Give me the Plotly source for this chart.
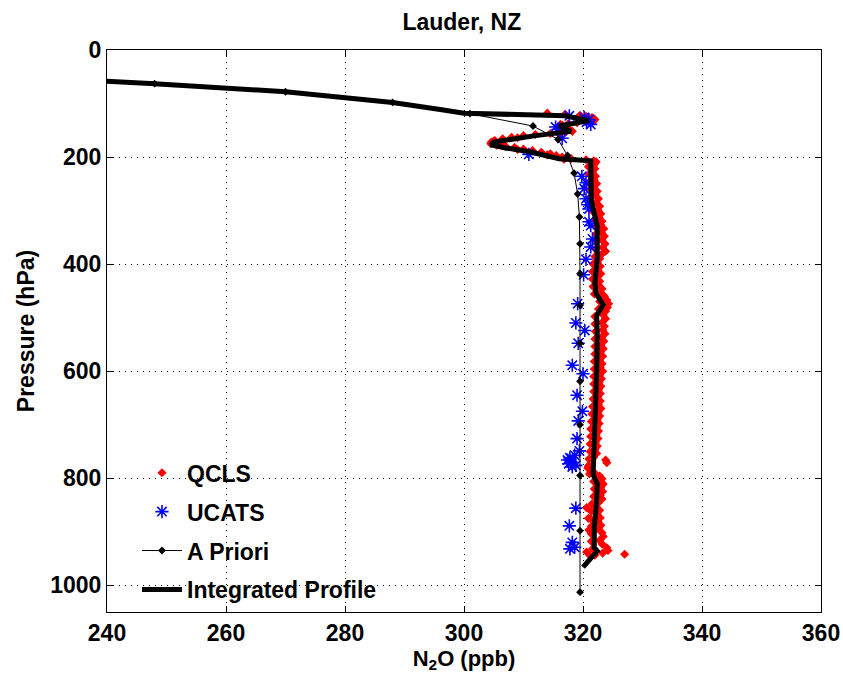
import plotly.graph_objects as go

# ---- Data ----
qcls_p = [118, 120, 122, 124, 126, 128, 130, 132, 134, 136, 138, 140, 143, 146, 149, 152, 154, 156, 158, 160,
          163, 166, 169, 172, 175, 178, 180, 182, 185, 188, 191, 194, 197, 200, 203, 205, 207, 209, 212,
          215, 222, 229, 236, 243, 250, 257, 264, 271, 278, 285, 292, 299, 306, 313, 320, 327, 334, 341, 348,
          355, 362, 369, 376, 383, 390, 397, 404, 411, 418, 425, 432, 439, 446, 453, 460, 467, 474, 481, 488,
          495, 502, 509, 516, 523, 530, 537, 544, 551, 558, 565, 572, 579, 586, 593, 600, 607, 614, 621, 628,
          635, 642, 649, 656, 663, 670, 677, 684, 691, 698, 705, 712, 719, 726, 733, 740, 747, 754, 761, 766,
          771, 776, 781, 786, 791, 796, 801, 806, 811, 818, 825, 832, 839, 846, 853, 855, 860, 867, 874, 875,
          881, 888, 895, 897, 902, 909, 916, 923, 930, 935, 938, 940, 942, 945,
          218, 232, 246, 260, 274, 288, 302, 316, 330, 344, 358, 372, 386, 400, 414, 428, 442, 456, 470, 484,
          498, 512, 526, 540, 554, 568, 582, 596, 610, 624, 638, 652, 666, 680, 694, 708, 722, 736, 750, 764,
          778, 792, 806, 820, 834, 848, 862, 876, 890, 904, 918, 932, 944,
          127, 139, 147, 157, 164, 170, 176, 186, 196, 204]
qcls_v = [314.0, 317.0, 319.5, 320.5, 321.5, 321.8, 322.0, 321.8, 320.5, 319.0, 317.5, 316.5, 316.0, 316.8, 317.8, 318.2, 317.0, 314.5, 312.0, 310.0,
          308.0, 306.5, 305.2, 304.6, 304.5, 305.5, 307.0, 308.5, 310.0, 311.5, 313.0, 314.5, 315.5, 316.5, 318.0, 320.5, 321.8, 322.2, 322.0,
          321.8, 322.0, 321.6, 322.1, 321.9, 322.3, 321.8, 322.4, 322.0, 322.6, 322.2, 322.8, 322.5, 323.0, 322.7, 323.2, 323.0, 323.5, 323.1, 323.6,
          323.2, 323.7, 323.3, 323.8, 323.0, 322.8, 322.4, 322.9, 322.5, 323.0, 322.4, 322.8, 322.6, 323.2, 323.0, 323.6, 324.0, 324.3, 324.1, 323.8,
          323.4, 323.8, 323.2, 323.6, 323.3, 323.7, 323.1, 323.5, 323.0, 323.4, 322.9, 323.3, 322.8, 323.2, 322.9, 323.3, 322.8, 323.1, 322.7, 323.0,
          322.6, 322.9, 322.5, 322.9, 322.6, 323.0, 322.5, 322.8, 322.4, 322.7, 322.3, 322.6, 322.2, 322.5, 322.1, 322.4, 322.0, 322.3, 321.8, 323.8,
          324.0, 321.0, 320.8, 321.3, 322.0, 322.8, 323.2, 323.0, 323.4, 323.0, 323.3, 322.9, 323.2, 322.6, 322.2, 320.6, 322.8, 322.4, 322.9, 320.9,
          322.5, 323.0, 322.6, 321.0, 323.2, 323.4, 322.8, 323.2, 324.0, 324.2, 320.6, 323.3, 327.0, 321.2,
          320.9, 321.0, 321.1, 321.2, 321.3, 321.5, 321.7, 322.0, 322.1, 322.2, 322.2, 322.1, 322.0, 321.7, 321.6, 321.6, 321.7, 321.9, 322.8, 322.6,
          322.0, 322.0, 322.1, 322.0, 322.0, 322.0, 321.9, 321.9, 321.8, 321.8, 321.8, 321.7, 321.6, 321.5, 321.4, 321.3, 321.3, 321.2, 321.2, 321.0,
          320.9, 321.1, 321.8, 321.9, 321.8, 321.5, 321.4, 321.3, 321.4, 321.4, 321.4, 321.6, 322.0,
          319.0, 316.2, 316.2, 316.0, 309.0, 305.0, 306.5, 309.0, 314.0, 316.8]

ucats_p = [123, 126, 130, 135, 139, 144, 148, 165, 195, 236, 248, 259, 278, 289, 297, 321, 328, 353, 368, 391,
           420, 474, 510, 524, 548, 589, 605, 645, 675, 693, 726, 749, 757, 762, 766, 770, 773, 776, 779, 856,
           889, 920, 929, 932]
ucats_v = [317.7, 320.2, 321.0, 320.6, 321.3, 315.4, 315.8, 316.5, 310.9, 319.8, 320.5, 320.2, 320.5, 320.8, 321.0, 321.0, 321.3, 321.6, 321.3, 320.5,
           320.1, 319.1, 318.8, 320.3, 319.2, 318.2, 320.0, 319.0, 319.9, 319.2, 319.0, 319.4, 318.6, 317.8, 317.4, 318.0, 317.6, 318.8, 318.2, 318.8,
           317.7, 318.2, 318.6, 317.8]

apriori_p = [50, 63, 78, 98, 119, 142, 167, 197, 230, 269, 312, 362, 418, 477, 548, 619, 700, 795, 898, 1013]
apriori_v = [225, 248, 270, 288, 301, 311.6, 315.8, 317.4, 318.5, 319.1, 319.4, 319.5, 319.5, 319.5, 319.5,
             319.5, 319.5, 319.5, 319.5, 319.5]

integ_p = [50, 63, 78, 98, 111, 118, 123, 132, 142, 152, 160, 166, 172, 177, 183, 190, 203, 207, 230, 280,
           300, 330, 387, 435, 455, 476, 496, 530, 600, 672, 720, 768, 793, 811, 840, 892, 930, 936, 966]
integ_v = [225, 248, 270, 288, 296, 300, 317, 321, 316, 318, 312, 308, 305, 304.5, 307, 311, 316, 321.3, 321.3, 321.4,
           321.8, 322.4, 322.4, 322.0, 322.2, 323.4, 322.3, 322.4, 322.3, 322.0, 321.8, 321.6, 321.7, 322.4, 322.3,
           321.9, 321.9, 322.4, 320.0]

x_ticks = [240, 260, 280, 300, 320, 340, 360]
y_ticks = [0, 200, 400, 600, 800, 1000]

FONT = "Liberation Sans, Arial, sans-serif"

fig = go.Figure()
fig.add_trace(go.Scatter(x=qcls_v, y=qcls_p, mode="markers", name="QCLS", legendgroup="a",
                         marker=dict(symbol="diamond", size=7, color="rgb(255,0,0)", line=dict(width=0))))
fig.add_trace(go.Scatter(x=ucats_v, y=ucats_p, mode="markers", name="UCATS", legendgroup="b",
                         marker=dict(symbol="asterisk-open", size=11, color="rgb(0,0,255)",
                                     line=dict(width=1.6, color="rgb(0,0,255)"))))
fig.add_trace(go.Scatter(x=apriori_v, y=apriori_p, mode="lines+markers", name="A Priori", legendgroup="c",
                         line=dict(color="black", width=1),
                         marker=dict(symbol="diamond", size=6, color="black")))
fig.add_trace(go.Scatter(x=integ_v, y=integ_p, mode="lines", name="Integrated Profile", legendgroup="d",
                         line=dict(color="black", width=5)))

axis_common = dict(
    showline=True, linecolor="black", linewidth=1, mirror="ticks",
    ticks="inside", ticklen=6, tickcolor="black", tickwidth=1,
    showgrid=True, gridcolor="black", gridwidth=1, griddash="1px,5px",
    zeroline=False, automargin=False,
    tickfont=dict(family=FONT, size=23, color="black", weight="bold"),
)

fig.update_layout(
    width=843, height=683,
    paper_bgcolor="white", plot_bgcolor="white",
    margin=dict(l=107, r=22, t=50, b=71),
    title=dict(text="Lauder, NZ", x=0.497, xanchor="center", xref="paper",
               y=1 - 22 / 683, yref="container", yanchor="middle",
               font=dict(family=FONT, size=23, color="black", weight="bold")),
    xaxis=dict(range=[240, 360], tickvals=x_ticks, ticktext=[str(t) for t in x_ticks],
               ticklabeloverflow="allow",
               title=dict(text="N<sub>2</sub>O (ppb)", standoff=2,
                          font=dict(family=FONT, size=22, color="black", weight="bold")),
               **axis_common),
    yaxis=dict(range=[1050, 0], tickvals=y_ticks, ticktext=[str(t) for t in y_ticks],
               title=dict(text="Pressure (hPa)", standoff=9,
                          font=dict(family=FONT, size=23, color="black", weight="bold")),
               **axis_common),
    showlegend=True,
    legend=dict(x=0.042, y=0.286, xanchor="left", yanchor="top", bgcolor="rgba(0,0,0,0)",
                borderwidth=0, tracegroupgap=6, itemwidth=40,
                font=dict(family=FONT, size=23, color="black", weight="bold")),
)

fig.write_html("out.html", config={"displayModeBar": False},
               post_script="document.body.style.margin='0';document.body.style.overflow='hidden';")
